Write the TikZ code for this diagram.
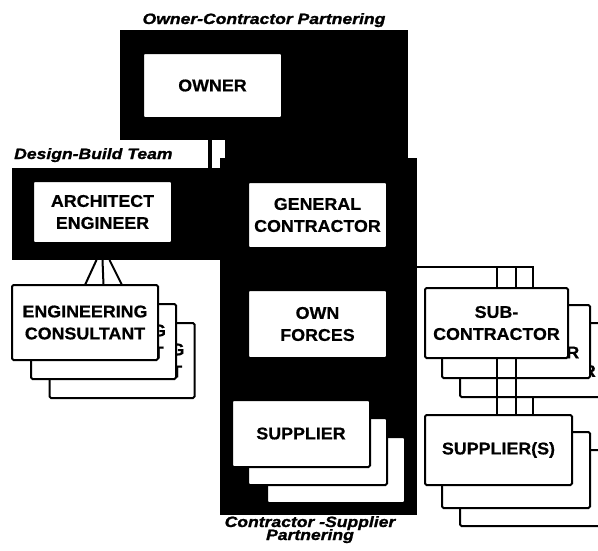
\documentclass[tikz,border=0pt]{standalone}
\usepackage{fontspec}
\setmainfont{Liberation Sans}
\newfontfamily\cardfont{Liberation Sans}[FakeStretch=1.05,FakeBold=0.6]
\newfontfamily\tagfont{Liberation Sans}[FakeStretch=1.17,FakeBold=1.2]
\usetikzlibrary{calc,positioning}

\begin{document}
\begin{tikzpicture}[x=1pt,y=-1pt,
  zone/.style={fill=black,draw=none,inner sep=0pt,outer sep=0pt,anchor=north west},
  card/.style={draw=black,fill=white,line width=2pt,rounded corners=1.5pt,inner sep=0pt,outer sep=0pt,
    align=center,font=\cardfont\fontsize{17}{22}\selectfont\bfseries},
  wire/.style={line width=2pt},
  tag/.style={inner sep=0pt,font=\tagfont\fontsize{15}{15}\selectfont\bfseries\itshape}]
\path[use as bounding box,clip] (0,0) rectangle (598,550);
\fill[white] (0,0) rectangle (598,550);
% black partnering areas
\node[zone,minimum width=288pt,minimum height=110pt] (ocp) at (120,30) {};
\node[zone,minimum width=183pt,minimum height=20pt] (ocpx) at (225,140) {};
\node[zone,minimum width=4pt,minimum height=28pt] (bar) at (208,140) {};
\node[zone,minimum width=213pt,minimum height=92pt] (dbt) at (12,168) {};
\node[zone,minimum width=197pt,minimum height=357pt] (col) at (220,158) {};
% boxes on black
\node[card,minimum width=139pt,minimum height=65pt] (owner) at (212.5,85.5) {OWNER};
\node[card,minimum width=139pt,minimum height=62pt] (arch) at (102.5,212) {ARCHITECT\\ENGINEER};
\node[card,minimum width=139pt,minimum height=66pt] (gc) at (317.5,215) {GENERAL\\CONTRACTOR};
\node[card,minimum width=139pt,minimum height=68pt] (ownf) at (317.5,324) {OWN\\FORCES};
\node[card,minimum width=138pt,minimum height=66pt] (supl3) at (336,470) {};
\node[card,minimum width=139pt,minimum height=67pt] (supl2) at (317.5,451.5) {};
\node[card,minimum width=138pt,minimum height=67pt] (supl1) at (301,433.5) {SUPPLIER};
% engineering consultants
\node[card,minimum width=145pt,minimum height=75pt] (cons3) at (122,360.5) {ENGINEERING\\CONSULTANT};
\node[card,minimum width=145pt,minimum height=75pt] (cons2) at (103.5,341.5) {ENGINEERING\\CONSULTANT};
\node[card,minimum width=146pt,minimum height=75pt] (cons1) at (85,322.5) {ENGINEERING\\CONSULTANT};
\draw[wire] ($(arch.south |- dbt.south)+(-6,0)$) -- (cons1.north);
\draw[wire] (arch.south |- dbt.south) -- (cons2.north |- cons1.north);
\draw[wire] ($(arch.south |- dbt.south)+(7,0)$) -- (cons3.north |- cons1.north);
% subcontractors
\coordinate (tap) at ($(col.north east)+(0,109)$);
\draw[wire] (tap) -| (533,300);
\node[card,minimum width=145pt,minimum height=74pt] (sub3) at (532.5,360) {SUB-\\CONTRACTOR};
\node[card,minimum width=148pt,minimum height=73pt] (sub2) at (516,341.5) {SUB-\\CONTRACTOR};
\draw[wire] (sub2.north) -- (sub2.north |- tap);
\draw[wire] (sub3.north) -- (sub3.north |- tap);
\node[card,minimum width=143pt,minimum height=70pt] (sub1) at (496.5,323) {SUB-\\CONTRACTOR};
\draw[wire] (sub1.north) -- (sub1.north |- tap);
% suppliers
\node[card,minimum width=150pt,minimum height=76pt] (sups3) at (535,488) {};
\node[card,minimum width=148pt,minimum height=76pt] (sups2) at (516,470) {};
\node[card,minimum width=147pt,minimum height=70pt] (sups1) at (498.5,450) {SUPPLIER(S)};
\draw[wire] (sub1.south) -- (sub1.south |- sups1.north);
\draw[wire] (sub2.south |- sub1.south) -- (sub2.south |- sups1.north);
\draw[wire] (sub3.south) -- (sub3.south |- sups1.north);
% titles
\node[tag,anchor=base] (ocpl) at (264,24) {Owner-Contractor Partnering};
\node[tag,anchor=base west] (dbtl) at (14,159) {Design-Build Team};
\node[tag,anchor=base] (cspl) at (310,527) {Contractor -Supplier};
\node[tag,anchor=base] (cspl2) at (310,540) {Partnering};
\end{tikzpicture}
\end{document}
